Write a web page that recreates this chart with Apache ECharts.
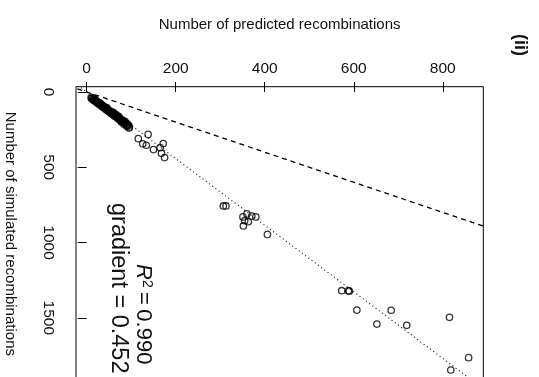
<!DOCTYPE html>
<html>
<head>
<meta charset="utf-8">
<style>
  html, body { margin: 0; padding: 0; background: #fff; }
  #chart { width: 539px; height: 377px; }
</style>
<script src="https://cdn.jsdelivr.net/npm/echarts@6/dist/echarts.min.js"></script>
</head>
<body>
<div id="chart"></div>
<script>
  // [predicted, simulated]
  var densePoints = [
    [10,36],[11,44],[13,40],[14,52],[16,46],[17,58],[19,54],[20,64],[22,60],[23,70],
    [25,68],[26,78],[28,72],[29,84],[31,80],[32,90],[34,86],[35,98],[37,92],[38,104],
    [40,100],[41,110],[43,106],[44,118],[46,112],[47,124],[49,120],[50,130],[52,126],[53,138],
    [55,132],[56,144],[58,140],[59,150],[61,146],[62,158],[64,152],[65,164],[67,160],[68,170],
    [70,166],[71,178],[73,172],[74,184],[76,180],[77,190],[79,186],[80,198],[82,192],[83,204],
    [85,200],[86,210],[88,206],[89,218],[91,212],[92,224],[94,220],[96,232],[90,228],[84,214],
    [78,200],[72,162],[60,136],[45,104],[30,74],[18,48],[66,150],[86,196],[95,240]
  ]
  var midPoints = [
    [138,282],[116,310],[126,344],[134,354],[150,383],[172,343],[165,370],[168,407],[175,436]
  ]
  var clusterPoints = [
    [307,757],[313,757],[351,830],[360,810],[371,824],[380,830],[355,855],[363,862],[352,890],[406,946]
  ]
  var farPoints = [
    [573,1320],[588,1320],[590,1323],[607,1449],[652,1542],[684,1450],[719,1550],[815,1497],[858,1765],[818,1847]
  ]
  var identityLine = [[-40,-40],[2000,2000]]
  var fitLine = [[-20,-44],[904,2000]]
  var xTicks = [0, 200, 400, 600, 800]
  var yTicks = [0, 500, 1000, 1500]

  var points = densePoints.concat(midPoints, clusterPoints, farPoints)
  var font = 'Liberation Sans, Arial, Helvetica, sans-serif'

  var chart = echarts.init(document.getElementById('chart'))
  var option = {
    animation: false,
    backgroundColor: '#fff',
    grid: {
      left: 76, top: 86.7, width: 407.3, height: 294.3,
      containLabel: false, outerBoundsMode: 'none',
      show: true, borderColor: '#000', borderWidth: 1, backgroundColor: 'transparent'
    },
    xAxis: {
      type: 'value', position: 'top', min: -24, max: 891,
      name: 'Number of predicted recombinations',
      nameLocation: 'middle', nameGap: 54,
      nameTextStyle: { fontFamily: font, fontSize: 15, color: '#111' },
      axisLine: { show: false },
      axisTick: { show: true, length: 10, customValues: xTicks, lineStyle: { color: '#000', width: 1 } },
      axisLabel: { customValues: xTicks, margin: 10, fontFamily: font, fontSize: 15.5, color: '#111' },
      splitLine: { show: false }
    },
    yAxis: {
      type: 'value', inverse: true, min: -35, max: 1920,
      name: 'Number of simulated recombinations',
      nameLocation: 'middle', nameGap: 58, nameRotate: -90,
      nameTextStyle: { fontFamily: font, fontSize: 15, color: '#111' },
      axisLine: { show: false },
      axisTick: { show: true, length: 9, customValues: yTicks, lineStyle: { color: '#000', width: 1 } },
      axisLabel: {
        customValues: yTicks, rotate: -90, margin: 20, fontFamily: font, fontSize: 15.5, color: '#111',
        formatter: function (v) { return String(v) }
      },
      splitLine: { show: false }
    },
    series: [
      {
        type: 'line', data: identityLine, symbol: 'none', silent: true,
        lineStyle: { color: '#000', width: 1.3, type: [5, 4] }
      },
      {
        type: 'line', data: fitLine, symbol: 'none', silent: true,
        lineStyle: { color: '#000', width: 1.1, type: [1, 3] }
      },
      {
        type: 'scatter', data: points, symbol: 'circle', symbolSize: 6.4,
        itemStyle: { color: 'rgba(0,0,0,0)', borderColor: '#000', borderWidth: 1.3 }
      }
    ],
    graphic: [
      {
        type: 'text', x: 143, y: 264, rotation: -Math.PI / 2,
        style: {
          text: '{i|R}{s|2}\u2009=\u20090.990',
          fontFamily: font, fontSize: 22, fill: '#111',
          textAlign: 'left', textVerticalAlign: 'middle',
          rich: {
            i: { fontFamily: font, fontSize: 22, fontStyle: 'italic', fill: '#111' },
            s: { fontFamily: font, fontSize: 14, fill: '#111', verticalAlign: 'top', padding: [0, 0, 8, 0] }
          }
        }
      },
      {
        type: 'text', x: 118, y: 203, rotation: -Math.PI / 2,
        style: {
          text: 'gradient = 0.452',
          fontFamily: font, fontSize: 23.5, fill: '#111',
          textAlign: 'left', textVerticalAlign: 'middle'
        }
      },
      {
        type: 'text', x: 520, y: 45, rotation: -Math.PI / 2,
        style: {
          text: '(ii)',
          fontFamily: font, fontSize: 18, fontWeight: 'bold', fill: '#111',
          textAlign: 'center', textVerticalAlign: 'middle'
        }
      }
    ]
  }
  chart.setOption(option)
</script>
</body>
</html>
